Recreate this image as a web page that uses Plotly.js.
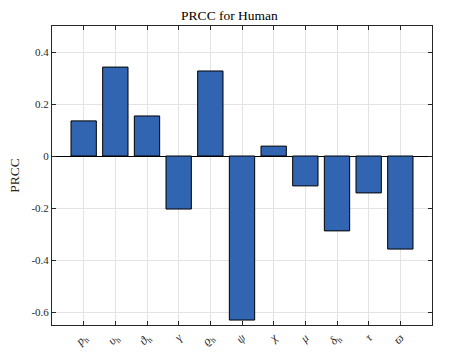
<!DOCTYPE html>
<html>
<head>
<meta charset="utf-8">
<script src="https://cdn.plot.ly/plotly-3.0.1.min.js"></script>
<style>
  html, body { margin: 0; padding: 0; background: #fff; }
  #chart { width: 459px; height: 354px; }
</style>
</head>
<body>
<div id="chart"></div>
<script>
// parameter labels (LaTeX-ish, italic symbols)
const param_labels = [
  "<i>p</i><sub>h</sub>", "<i>υ</i><sub>h</sub>", "<i>ϑ</i><sub>h</sub>", "<i>γ</i>",
  "<i>ϱ</i><sub>h</sub>", "<i>ψ</i>", "<i>χ</i>", "<i>μ</i>",
  "<i>δ</i><sub>h</sub>", "<i>τ</i>", "<i>ϖ</i>",
];
const param_pos = [1, 2, 3, 4, 5, 6, 7, 8, 9, 10, 11];
const prcc_values = [0.135, 0.342, 0.154, -0.204, 0.327, -0.631, 0.038, -0.115, -0.288, -0.142, -0.358];

const y_tick_vals = [0.4, 0.2, 0, -0.2, -0.4, -0.6];
const y_tick_text = ["0.4", "0.2", "0", "-0.2", "-0.4", "-0.6"];

const serif = "Liberation Serif, DejaVu Serif, serif";

const prcc_bars = {
  type: "bar",
  x: param_pos,
  y: prcc_values,
  width: 0.8,
  marker: {
    color: "#3165b1",
    line: { color: "#000000", width: 1 },
  },
  hoverinfo: "x+y",
};

const layout = {
  width: 459,
  height: 354,
  margin: { l: 52, r: 27, t: 26, b: 29 },
  paper_bgcolor: "#ffffff",
  plot_bgcolor: "#ffffff",
  showlegend: false,
  title: {
    text: "PRCC for Human",
    font: { family: serif, size: 13.5, color: "#000" },
    x: 0.5,
    xanchor: "center",
    y: 1,
    yref: "paper",
    yanchor: "bottom",
    pad: { b: 6 },
  },
  font: { family: serif, color: "#262626" },
  xaxis: {
    range: [0, 12],
    tickvals: param_pos,
    ticktext: param_labels,
    tickangle: -45,
    tickfont: { family: serif, size: 12, color: "#262626" },
    ticks: "inside",
    ticklen: 4,
    tickcolor: "#262626",
    showline: true,
    linecolor: "#262626",
    linewidth: 1,
    mirror: "ticks",
    showgrid: true,
    gridcolor: "#e3e3e3",
    zeroline: false,
    automargin: false,
    fixedrange: true,
  },
  yaxis: {
    range: [-0.65, 0.5],
    tickvals: y_tick_vals,
    ticktext: y_tick_text,
    tickfont: { family: serif, size: 11, color: "#262626" },
    ticks: "inside",
    ticklen: 4,
    tickcolor: "#262626",
    showline: true,
    linecolor: "#262626",
    linewidth: 1,
    mirror: "ticks",
    showgrid: true,
    gridcolor: "#e3e3e3",
    zeroline: true,
    zerolinecolor: "#000000",
    zerolinewidth: 1,
    title: {
      text: "PRCC",
      font: { family: serif, size: 13.5, color: "#262626" },
      standoff: 8,
    },
    automargin: false,
    fixedrange: true,
  },
};

Plotly.newPlot("chart", [prcc_bars], layout, { displayModeBar: false, staticPlot: true });
</script>
</body>
</html>
